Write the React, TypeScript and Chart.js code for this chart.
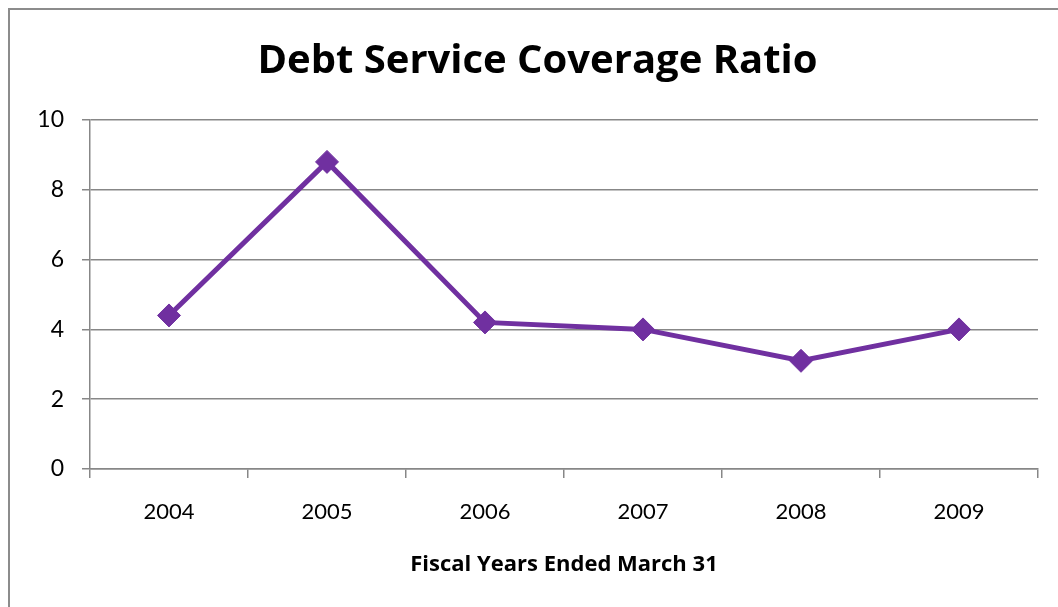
import React, { useEffect, useRef } from "react";
import { Chart, registerables } from "chart.js";

Chart.register(...registerables);

const years = ["2004", "2005", "2006", "2007", "2008", "2009"];
const ratios = [4.4, 8.8, 4.2, 4.0, 3.1, 4.0];
const chartTitle = "Debt Service Coverage Ratio";
const xAxisTitle = "Fiscal Years Ended March 31";
const yMin = 0;
const yMax = 10;
const yStep = 2;

const FONT = "Lato, 'Open Sans', sans-serif";
const BOLD_FONT = "'Open Sans', Lato, sans-serif";
const GRID = "#878787";
const PURPLE = "#7030A0";

const titlePlugin = {
  id: "fixedTitle",
  afterDraw(chart: any, _args: any, opts: any) {
    const ctx = chart.ctx;
    ctx.save();
    ctx.font = `bold ${opts.size}px ${BOLD_FONT}`;
    ctx.fillStyle = "#000";
    ctx.textAlign = "center";
    ctx.textBaseline = "alphabetic";
    ctx.fillText(opts.text, opts.x, opts.y);
    ctx.restore();
  },
};

export default function App() {
  const ref = useRef<HTMLCanvasElement | null>(null);

  useEffect(() => {
    if (!ref.current) return;
    const chart = new Chart(ref.current, {
      type: "line",
      data: {
        labels: years,
        datasets: [
          {
            label: "Debt Service Coverage Ratio",
            data: ratios,
            borderColor: PURPLE,
            backgroundColor: PURPLE,
            borderWidth: 5,
            pointStyle: "rectRot",
            pointRadius: 11.5,
            pointBorderWidth: 1,
            pointBackgroundColor: PURPLE,
            pointBorderColor: PURPLE,
            tension: 0,
          },
        ],
      },
      options: {
        responsive: false,
        animation: false,
        devicePixelRatio: 1,
        layout: { padding: { top: 120, left: 0, right: 20, bottom: 0 } },
        plugins: {
          legend: { display: false },
          title: { display: false },
          tooltip: { enabled: false },
          fixedTitle: { text: chartTitle, x: 537.5, y: 73, size: 40 },
        } as any,
        scales: {
          x: {
            type: "category",
            offset: true,
            grid: {
              offset: true,
              drawOnChartArea: false,
              drawTicks: true,
              tickLength: 9,
              color: GRID,
              lineWidth: 1.5,
            },
            border: { display: true, color: GRID, width: 1.5 },
            ticks: {
              color: "#000",
              padding: 21,
              font: { family: FONT, size: 22 },
            },
            title: {
              display: true,
              text: xAxisTitle,
              color: "#000",
              font: { family: BOLD_FONT, size: 22, weight: "bold" },
              padding: { top: 0, bottom: 29 },
            },
            afterFit(scale: any) {
              scale.height = 138;
            },
          },
          y: {
            min: yMin,
            max: yMax,
            ticks: {
              stepSize: yStep,
              color: "#000",
              padding: 18,
              font: { family: FONT, size: 23 },
            },
            grid: {
              color: GRID,
              lineWidth: 1.5,
              tickLength: 8,
              drawTicks: true,
            },
            border: { display: true, color: GRID, width: 1.5 },
            afterFit(scale: any) {
              scale.width = 90;
            },
          },
        },
      },
      plugins: [titlePlugin],
    });
    return () => chart.destroy();
  }, []);

  return (
    <div
      style={{
        position: "fixed",
        left: 0,
        top: 0,
        width: 1058,
        height: 607,
        overflow: "hidden",
        background: "#fff",
      }}
    >
      <div
        style={{
          position: "absolute",
          left: 8,
          top: 8,
          width: 1060,
          height: 640,
          border: "2px solid #8c8c8c",
          boxSizing: "border-box",
        }}
      />
      <canvas
        ref={ref}
        width={1058}
        height={607}
        style={{ position: "absolute", left: 0, top: 0, width: 1058, height: 607 }}
      />
    </div>
  );
}
